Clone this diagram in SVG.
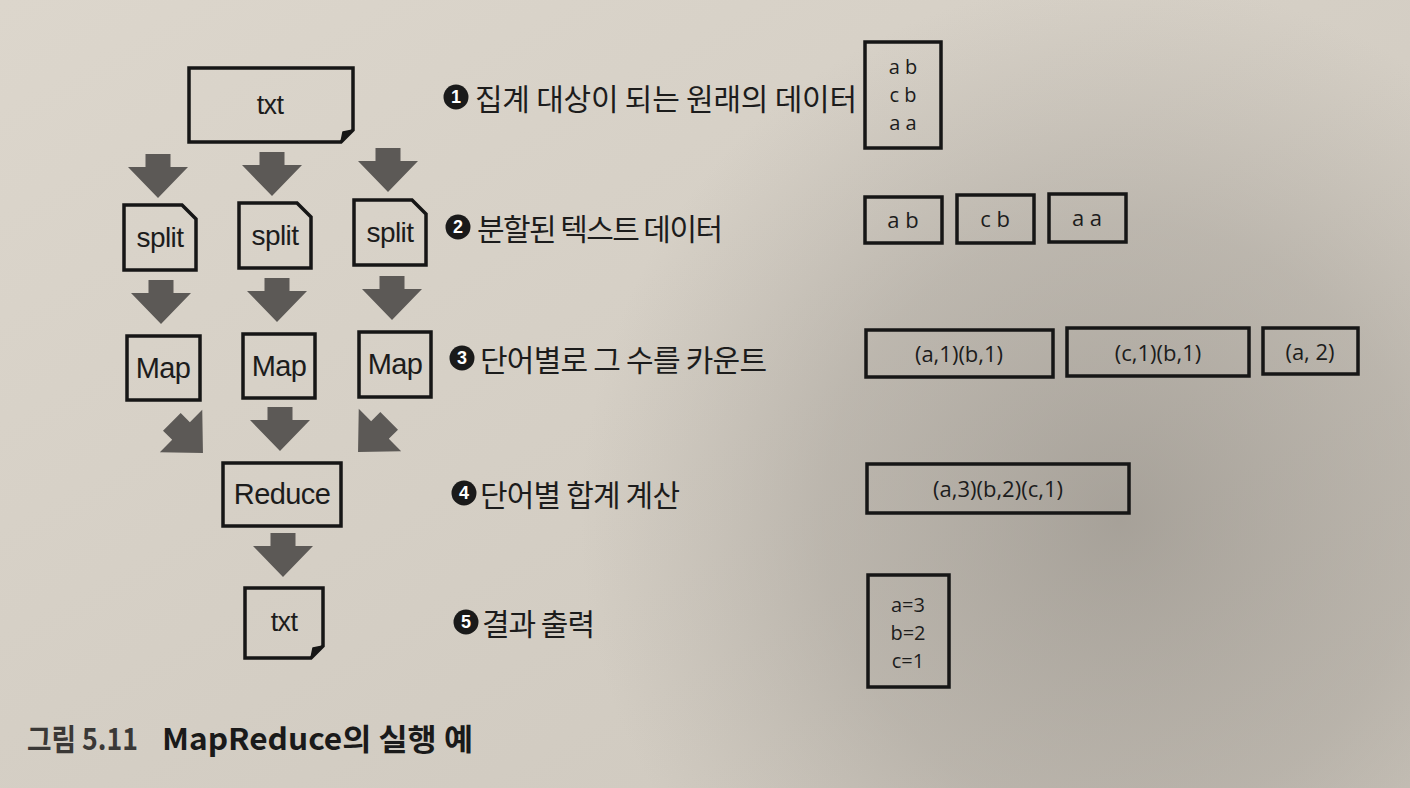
<svg xmlns="http://www.w3.org/2000/svg" width="1410" height="788" viewBox="0 0 1410 788">
  <defs>
    <radialGradient id="shadow" cx="1120" cy="520" r="540" gradientUnits="userSpaceOnUse">
      <stop offset="0" stop-color="#8a857e" stop-opacity="0.6"/>
      <stop offset="0.55" stop-color="#96918a" stop-opacity="0.38"/>
      <stop offset="1" stop-color="#a09b94" stop-opacity="0"/>
    </radialGradient>
    <linearGradient id="paper" x1="0" y1="0" x2="1" y2="1">
      <stop offset="0" stop-color="#dcd6cc"/>
      <stop offset="1" stop-color="#cdc7bd"/>
    </linearGradient>
    <path id="arrow" d="M-12.5,-22 H12.5 V-9 H30 L0,22 L-30,-9 H-12.5 Z"/>
    <style>
      .box { fill: none; stroke: #161616; stroke-width: 3.5; stroke-linejoin: miter; }
      .fold { fill: #161616; stroke: #161616; stroke-width: 1.5; stroke-linejoin: round; }
      .node { font-family: "Liberation Sans", Arial, sans-serif; fill: #1c1c1c; text-anchor: middle; dominant-baseline: central; letter-spacing: -0.6px; }
      .data { font-family: "Open Sans", "Noto Sans", sans-serif; fill: #1c1c1c; text-anchor: middle; dominant-baseline: central; font-size: 22px; }
      .stack { font-size: 20px; }
      .step { font-family: "Noto Sans CJK KR", "Noto Sans", sans-serif; fill: #1c1c1c; font-size: 30px; dominant-baseline: central; }
      .num { font-family: "Liberation Sans", Arial, sans-serif; font-weight: bold; fill: #ffffff; font-size: 18px; text-anchor: middle; dominant-baseline: central; }
      .dot { fill: #1a1a1a; }
      .arr { fill: #5c5956; }
      .cap { font-family: "Noto Sans CJK KR", "Noto Sans", sans-serif; font-weight: bold; font-size: 30px; dominant-baseline: central; }
    </style>
  </defs>

  <rect x="0" y="0" width="1410" height="788" fill="url(#paper)"/>
  <rect x="0" y="0" width="1410" height="788" fill="url(#shadow)"/>

  <!-- connectors -->
  <g id="connectors" class="arr">
    <use href="#arrow" x="158" y="176"/>
    <use href="#arrow" x="272" y="174"/>
    <use href="#arrow" x="388" y="170"/>
    <use href="#arrow" x="161" y="302"/>
    <use href="#arrow" x="277" y="300"/>
    <use href="#arrow" x="392" y="298"/>
    <use href="#arrow" transform="translate(187.4,437.4) rotate(-45)"/>
    <use href="#arrow" x="280" y="429"/>
    <use href="#arrow" transform="translate(373.6,436.4) rotate(45)"/>
    <use href="#arrow" x="283" y="555"/>
  </g>

  <!-- flow nodes -->
  <g id="node-txt-in">
    <path class="box" d="M189,68 H353 V130 L341,142 H189 Z"/>
    <path class="fold" d="M341,142 L353,130 L343,132 Z"/>
    <text class="node" x="270" y="105" font-size="27">txt</text>
  </g>
  <g id="node-split1">
    <path class="box" d="M124,205 H182 L196,219 V270 H124 Z"/>
    <text class="node" x="160" y="237" font-size="28">split</text>
  </g>
  <g id="node-split2">
    <path class="box" d="M239,203 H297 L311,217 V268 H239 Z"/>
    <text class="node" x="275" y="235" font-size="28">split</text>
  </g>
  <g id="node-split3">
    <path class="box" d="M354,200 H412 L426,214 V265 H354 Z"/>
    <text class="node" x="390" y="232" font-size="28">split</text>
  </g>
  <g id="node-map1">
    <rect class="box" x="127" y="336" width="73" height="64"/>
    <text class="node" x="163" y="368" font-size="29">Map</text>
  </g>
  <g id="node-map2">
    <rect class="box" x="243" y="334" width="72" height="64"/>
    <text class="node" x="279" y="366" font-size="29">Map</text>
  </g>
  <g id="node-map3">
    <rect class="box" x="359" y="332" width="72" height="65"/>
    <text class="node" x="395" y="364" font-size="29">Map</text>
  </g>
  <g id="node-reduce">
    <rect class="box" x="223" y="463" width="118" height="63"/>
    <text class="node" x="282" y="494" font-size="29">Reduce</text>
  </g>
  <g id="node-txt-out">
    <path class="box" d="M245,588 H323 V646 L311,658 H245 Z"/>
    <path class="fold" d="M311,658 L323,646 L313,648 Z"/>
    <text class="node" x="284" y="622" font-size="27">txt</text>
  </g>

  <!-- step labels -->
  <g id="step1">
    <circle class="dot" cx="456" cy="97" r="12.5"/>
    <text class="num" x="456" y="97">1</text>
    <text class="step" x="475" y="97" textLength="382">집계 대상이 되는 원래의 데이터</text>
  </g>
  <g id="step2">
    <circle class="dot" cx="458" cy="227" r="12.5"/>
    <text class="num" x="458" y="227">2</text>
    <text class="step" x="477" y="227" textLength="246">분할된 텍스트 데이터</text>
  </g>
  <g id="step3">
    <circle class="dot" cx="462" cy="358" r="12.5"/>
    <text class="num" x="462" y="358">3</text>
    <text class="step" x="480" y="358" textLength="287">단어별로 그 수를 카운트</text>
  </g>
  <g id="step4">
    <circle class="dot" cx="464" cy="493" r="12.5"/>
    <text class="num" x="464" y="493">4</text>
    <text class="step" x="480" y="493" textLength="200">단어별 합계 계산</text>
  </g>
  <g id="step5">
    <circle class="dot" cx="466" cy="622" r="12.5"/>
    <text class="num" x="466" y="622">5</text>
    <text class="step" x="482" y="622" textLength="113">결과 출력</text>
  </g>

  <!-- data boxes -->
  <g id="data-original">
    <rect class="box" x="865" y="42" width="76" height="106"/>
    <text class="data stack" x="903" y="66">a b</text>
    <text class="data stack" x="903" y="94">c b</text>
    <text class="data stack" x="903" y="122">a a</text>
  </g>
  <g id="data-split1">
    <rect class="box" x="865" y="197" width="77" height="46"/>
    <text class="data" x="903" y="219">a b</text>
  </g>
  <g id="data-split2">
    <rect class="box" x="957" y="195" width="77" height="48"/>
    <text class="data" x="995" y="218">c b</text>
  </g>
  <g id="data-split3">
    <rect class="box" x="1049" y="194" width="77" height="48"/>
    <text class="data" x="1087" y="217">a a</text>
  </g>
  <g id="data-map1">
    <rect class="box" x="866" y="330" width="187" height="47"/>
    <text class="data" x="959" y="353">(a,1)(b,1)</text>
  </g>
  <g id="data-map2">
    <rect class="box" x="1067" y="328" width="182" height="48"/>
    <text class="data" x="1158" y="352">(c,1)(b,1)</text>
  </g>
  <g id="data-map3">
    <rect class="box" x="1263" y="328" width="95" height="46"/>
    <text class="data" x="1310" y="351">(a, 2)</text>
  </g>
  <g id="data-reduce">
    <rect class="box" x="867" y="464" width="262" height="49"/>
    <text class="data" x="998" y="488">(a,3)(b,2)(c,1)</text>
  </g>
  <g id="data-result">
    <rect class="box" x="868" y="575" width="81" height="112"/>
    <text class="data stack" x="908" y="604">a=3</text>
    <text class="data stack" x="908" y="632">b=2</text>
    <text class="data stack" x="908" y="660">c=1</text>
  </g>

  <!-- caption -->
  <g id="caption">
    <text class="cap" x="27" y="737" fill="#3a3836" textLength="111" lengthAdjust="spacingAndGlyphs">그림 5.11</text>
    <text class="cap" x="162" y="737" fill="#1a1a1a" textLength="311" lengthAdjust="spacingAndGlyphs">MapReduce의 실행 예</text>
  </g>
</svg>
